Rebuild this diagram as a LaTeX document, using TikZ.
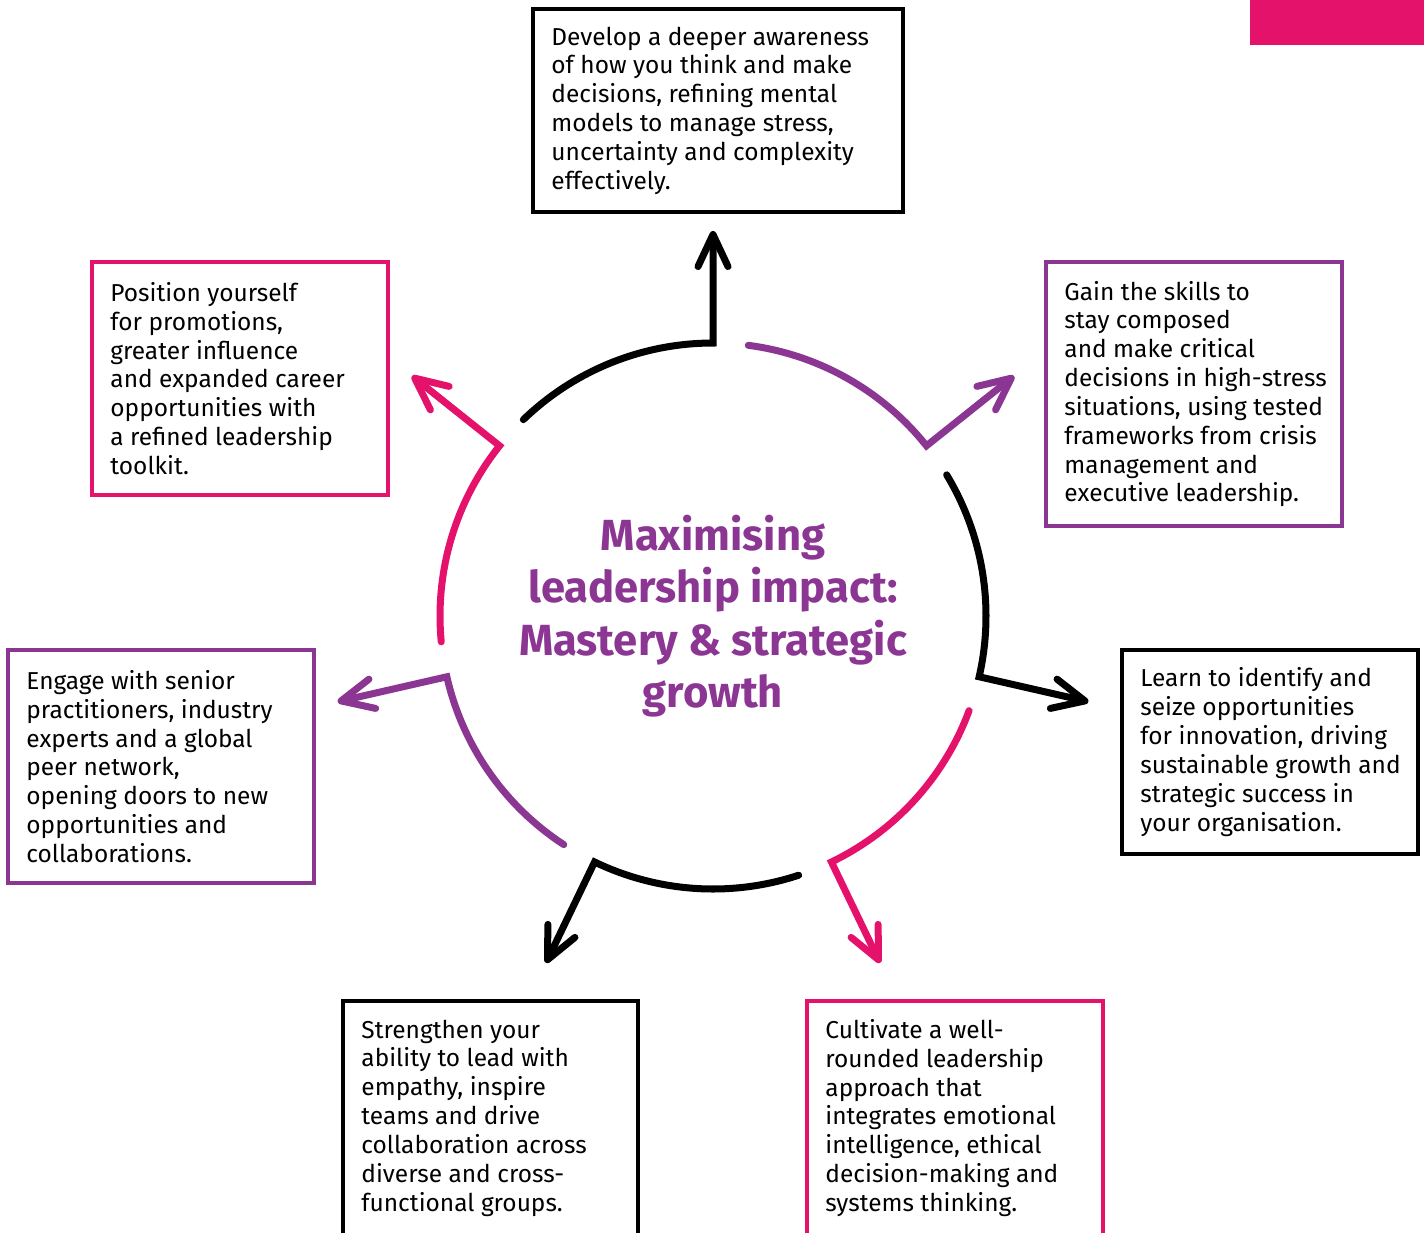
\documentclass[tikz,border=0pt]{standalone}
\usepackage{fontspec}
\setmainfont{Fira Sans}
\usetikzlibrary{arrows.meta}
\definecolor{pinkc}{HTML}{E5126C}
\definecolor{purpc}{HTML}{8C3694}
\begin{document}
\begin{tikzpicture}[x=0.025cm,y=0.025cm,
	box/.style={draw=#1,line width=0.09cm,inner sep=0pt},
	txt/.style={anchor=west,align=left,inner sep=0pt,font=\fontsize{17.4}{20.5}\selectfont},
	ring/.style={draw=#1,line width=0.175cm,line cap=round,-{Straight Barb[length=0.8cm,width=0.75cm,round]}}]
			\useasboundingbox (0,0) rectangle (1424,-1232);
			\clip (0,0) rectangle (1424,-1232);
			\fill[pinkc] (1250,0) rectangle (1424,-45);
			% boxes
			\node[box=black,minimum width=9.25cm,minimum height=5.075cm] (b1) at (718,-110.5) {};
			\node[box=purpc,minimum width=7.4cm,minimum height=6.6cm] (b2) at (1194,-394) {};
			\node[box=black,minimum width=7.4cm,minimum height=5.1cm] (b3) at (1270,-752) {};
			\node[box=pinkc,minimum width=7.4cm,minimum height=5.85cm] (b4) at (955,-1118) {};
			\node[box=black,minimum width=7.375cm,minimum height=5.85cm] (b5) at (490.5,-1118) {};
			\node[box=purpc,minimum width=7.65cm,minimum height=5.825cm] (b6) at (161,-766.5) {};
			\node[box=pinkc,minimum width=7.4cm,minimum height=5.825cm] (b7) at (240,-378.5) {};
			% texts
			\node[txt] (t1) at ([xshift=0.5cm]b1.west) {Develop a deeper awareness\\of how you think and make\\decisions, refining mental\\models to manage stress,\\uncertainty and complexity\\effectively.};
			\node[txt] (t2) at ([xshift=0.5cm]b2.west) {Gain the skills to\\stay composed\\and make critical\\decisions in high-stress\\situations, using tested\\frameworks from crisis\\management and\\executive leadership.};
			\node[txt] (t3) at ([xshift=0.5cm]b3.west) {Learn to identify and\\seize opportunities\\for innovation, driving\\sustainable growth and\\strategic success in\\your organisation.};
			\node[txt] (t4) at ([xshift=0.5cm]b4.west) {Cultivate a well-\\rounded leadership\\approach that\\integrates emotional\\intelligence, ethical\\decision-making and\\systems thinking.};
			\node[txt] (t5) at ([xshift=0.5cm]b5.west) {Strengthen your\\ability to lead with\\empathy, inspire\\teams and drive\\collaboration across\\diverse and cross-\\functional groups.};
			\node[txt] (t6) at ([xshift=0.5cm]b6.west) {Engage with senior\\practitioners, industry\\experts and a global\\peer network,\\opening doors to new\\opportunities and\\collaborations.};
			\node[txt] (t7) at ([xshift=0.5cm]b7.west) {Position yourself\\for promotions,\\greater influence\\and expanded career\\opportunities with\\a refined leadership\\toolkit.};
			% centre
			\coordinate (c) at (713,-616);
			\node[align=center,text=purpc,font=\fontsize{31}{37.2}\selectfont\bfseries] (title) at (713,-616) {Maximising\\leadership impact:\\Mastery \& strategic\\growth};
			% ring of arrows
			\begin{scope}[shift={(c)}]
			\draw[ring=black] (134:273) arc[start angle=134,end angle=90,radius=273] -- (90:385);
			\draw[ring=purpc] (82.57:273) arc[start angle=82.57,end angle=38.57,radius=273] -- (38.57:385);
			\draw[ring=black] (31.14:273) arc[start angle=31.14,end angle=-12.86,radius=273] -- (-12.86:385);
			\draw[ring=pinkc] (-20.29:273) arc[start angle=-20.29,end angle=-64.29,radius=273] -- (-64.29:385);
			\draw[ring=black] (-71.71:273) arc[start angle=-71.71,end angle=-115.71,radius=273] -- (-115.71:385);
			\draw[ring=purpc] (-123.14:273) arc[start angle=-123.14,end angle=-167.14,radius=273] -- (-167.14:385);
			\draw[ring=pinkc] (-174.57:273) arc[start angle=-174.57,end angle=-218.57,radius=273] -- (-218.57:385);
			\end{scope}
		\end{tikzpicture}
\end{document}
